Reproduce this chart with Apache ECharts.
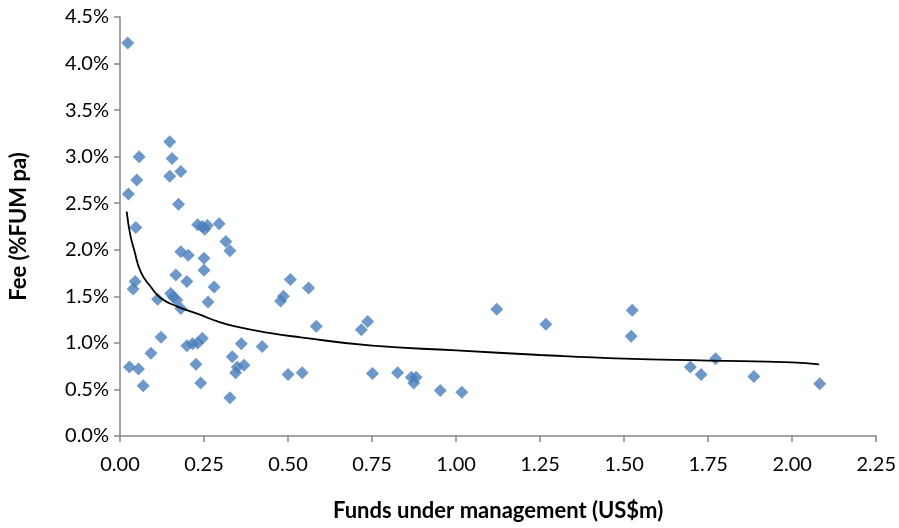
<!DOCTYPE html>
<html><head><meta charset="utf-8">
<script src="https://cdn.jsdelivr.net/npm/echarts@6/dist/echarts.min.js"></script>
<style>html,body{margin:0;padding:0;background:#fff}#c{width:899px;height:528px}</style>
</head><body><div id="c"></div>
<script>
// Funds under management (US$m)
var fumValues = [0.023,0.148,0.057,0.155,0.05,0.148,0.181,0.025,0.174,0.047,
  0.231,0.245,0.26,0.252,0.295,0.315,0.327,0.181,0.203,0.25,
  0.25,0.166,0.199,0.28,0.045,0.039,0.112,0.151,0.159,0.169,
  0.181,0.262,0.507,0.486,0.478,0.561,0.584,0.737,0.718,1.121,
  1.267,0.122,0.092,0.028,0.055,0.069,0.199,0.216,0.231,0.245,
  0.226,0.24,0.361,0.423,0.334,0.349,0.369,0.344,0.327,0.50,
  0.542,0.751,0.826,0.867,0.881,0.874,0.953,1.017,1.524,1.521,
  1.697,1.729,1.772,1.886,2.082];
// Fee (% FUM pa)
var feeValues = [4.22,3.16,3.00,2.98,2.75,2.79,2.84,2.60,2.49,2.24,
  2.27,2.25,2.26,2.22,2.28,2.09,1.99,1.98,1.94,1.91,
  1.78,1.73,1.66,1.60,1.66,1.58,1.47,1.53,1.49,1.46,
  1.37,1.44,1.68,1.50,1.45,1.59,1.18,1.23,1.14,1.36,
  1.20,1.06,0.89,0.74,0.72,0.54,0.97,0.99,1.00,1.05,
  0.77,0.57,0.99,0.96,0.85,0.74,0.76,0.68,0.41,0.66,
  0.68,0.67,0.68,0.63,0.63,0.57,0.49,0.47,1.35,1.07,
  0.74,0.66,0.83,0.64,0.56];
// trend line points
var trendX = [0.02,0.03,0.042,0.062,0.092,0.122,0.171,0.24,0.29,0.339,0.438,0.537,0.75,1.0,1.25,1.5,1.75,2.0,2.08];
var trendY = [2.41,2.17,2.00,1.76,1.60,1.48,1.39,1.30,1.23,1.18,1.11,1.06,0.97,0.92,0.87,0.83,0.81,0.79,0.77];
var xTicks = ['0.00','0.25','0.50','0.75','1.00','1.25','1.50','1.75','2.00','2.25'];

var pts = fumValues.map(function(v,i){return [v, feeValues[i]];});
var trend = trendX.map(function(v,i){return [v, trendY[i]];});
var FONT = 'Lato, "Open Sans", sans-serif';
var chart = echarts.init(document.getElementById('c'), null, {renderer:'canvas'});
chart.setOption({
  animation:false,
  grid:{left:119, right:22, top:17, bottom:92, containLabel:false},
  xAxis:{type:'value', min:0, max:2.25, interval:0.25,
    name:'Funds under management (US$m)', nameLocation:'middle', nameGap:64,
    nameTextStyle:{fontFamily:FONT, fontSize:22, fontWeight:'bold', color:'#000'},
    axisLine:{show:true, lineStyle:{color:'#868686', width:1.5}},
    axisTick:{show:true, length:6, lineStyle:{color:'#868686', width:1.5}},
    splitLine:{show:false},
    axisLabel:{fontFamily:FONT, fontSize:20, color:'#000', margin:19,
      formatter:function(v){var i=Math.round(v/0.25);return xTicks[i];}}
  },
  yAxis:{type:'value', min:0, max:4.5, interval:0.5,
    name:'Fee (%FUM pa)', nameLocation:'middle', nameGap:90,
    nameTextStyle:{fontFamily:FONT, fontSize:22, fontWeight:'bold', color:'#000'},
    axisLine:{show:true, lineStyle:{color:'#868686', width:1.5}},
    axisTick:{show:true, length:6, lineStyle:{color:'#868686', width:1.5}},
    splitLine:{show:false},
    axisLabel:{fontFamily:FONT, fontSize:20, color:'#000', margin:11,
      formatter:function(v){return v.toFixed(1)+'%';}}
  },
  series:[
    {type:'scatter', data:pts, symbol:'diamond', symbolSize:13,
      itemStyle:{color:'#4a7ebb'}, z:3},
    {type:'line', data:trend, smooth:true, showSymbol:false,
      lineStyle:{color:'#000', width:1.8}, z:4}
  ]
});
</script></body></html>
